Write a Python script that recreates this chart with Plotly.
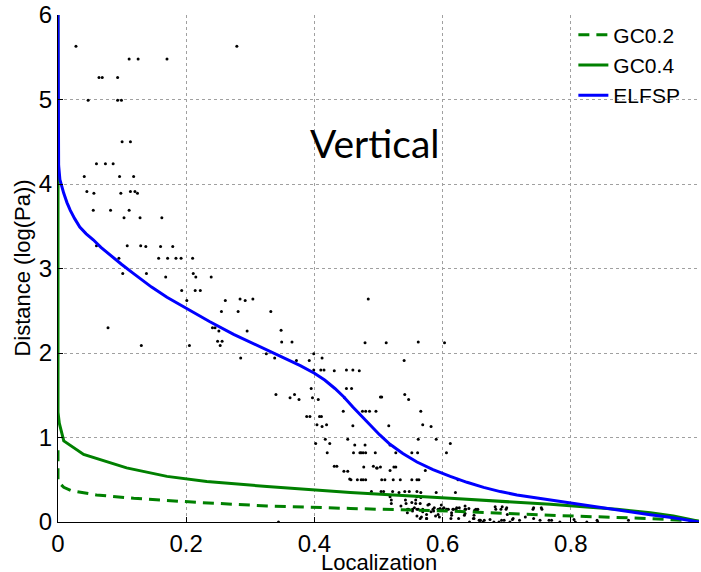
import plotly.graph_objects as go

# ---------------- data ----------------
gc02_x = [0.0, 0.0, 0.009, 0.021, 0.060, 0.118, 0.222, 0.326, 0.456, 0.612, 0.768, 0.924, 1.0]
gc02_y = [0.85, 0.48, 0.41, 0.37, 0.32, 0.28, 0.23, 0.19, 0.16, 0.13, 0.08, 0.04, 0.01]

gc04_x = [0.0, 0.0, 0.002, 0.009, 0.040, 0.107, 0.170, 0.232, 0.326, 0.456, 0.612, 0.768,
          0.872, 0.924, 0.960, 1.0]
gc04_y = [6.0, 1.3, 1.17, 0.96, 0.80, 0.64, 0.54, 0.48, 0.42, 0.35, 0.28, 0.21,
          0.15, 0.11, 0.07, 0.01]

elfsp_x = [0.0, 0.0, 0.001, 0.003, 0.006, 0.009, 0.014, 0.019, 0.026, 0.034, 0.044, 0.055,
           0.067, 0.081, 0.099, 0.118, 0.146, 0.170, 0.200, 0.237, 0.274, 0.305, 0.331,
           0.356, 0.378, 0.400, 0.416, 0.432, 0.446, 0.460, 0.474, 0.487, 0.502, 0.518,
           0.538, 0.560, 0.585, 0.612, 0.638, 0.664, 0.690, 0.716, 0.760, 0.800, 0.840,
           0.880, 0.924, 0.960, 1.0]
elfsp_y = [6.0, 4.5, 4.22, 4.05, 3.96, 3.89, 3.78, 3.69, 3.59, 3.49, 3.41, 3.34,
           3.25, 3.16, 3.05, 2.94, 2.78, 2.66, 2.53, 2.37, 2.22, 2.11, 2.02,
           1.93, 1.85, 1.76, 1.68, 1.58, 1.48, 1.36, 1.25, 1.14, 1.03, 0.92,
           0.81, 0.71, 0.62, 0.54, 0.47, 0.41, 0.36, 0.32, 0.27, 0.22, 0.18,
           0.135, 0.085, 0.05, 0.0]

pts_x = [
    0.028, 0.279, 0.111, 0.125, 0.170, 0.064, 0.069, 0.093, 0.047, 0.093, 0.099,
    0.100, 0.113, 0.060, 0.074, 0.086, 0.041, 0.096, 0.118,
    0.045, 0.056, 0.098, 0.113, 0.120, 0.124, 0.055, 0.082, 0.111, 0.103, 0.128, 0.162,
    0.060, 0.108, 0.129, 0.137, 0.160, 0.179, 0.095, 0.157, 0.171, 0.184, 0.192, 0.210,
    0.101, 0.138, 0.211, 0.168, 0.215, 0.239, 0.193, 0.214, 0.222,
    0.201, 0.261, 0.284, 0.292, 0.304, 0.078, 0.130, 0.255, 0.281, 0.332,
    0.241, 0.245, 0.251, 0.295, 0.348, 0.249, 0.256, 0.253, 0.205, 0.349, 0.365,
    0.285, 0.325, 0.338, 0.372, 0.392, 0.399, 0.412,
    0.399, 0.410, 0.415, 0.431, 0.450, 0.460, 0.470,
    0.340, 0.362, 0.369, 0.376, 0.395, 0.397, 0.406, 0.445, 0.450, 0.447, 0.458,
    0.388, 0.393, 0.408, 0.411, 0.404, 0.412, 0.419, 0.417, 0.452, 0.402, 0.424, 0.420,
    0.431, 0.435, 0.446, 0.452, 0.455, 0.344,
    0.484, 0.479, 0.512, 0.562, 0.603, 0.540, 0.541, 0.547, 0.503, 0.505,
    0.475, 0.480, 0.486, 0.496, 0.566, 0.460, 0.516, 0.569, 0.582,
    0.562, 0.590, 0.612, 0.463, 0.479, 0.518,
    0.461, 0.471, 0.473, 0.476, 0.480, 0.495, 0.527, 0.552, 0.561, 0.606,
    0.477, 0.492, 0.497, 0.503, 0.518, 0.527, 0.573, 0.524, 0.498,
    0.457, 0.467, 0.473, 0.476, 0.480, 0.505, 0.510, 0.523, 0.534, 0.552, 0.560, 0.563, 0.624,
    0.489, 0.504, 0.508, 0.522, 0.532, 0.541, 0.548, 0.560, 0.566, 0.590, 0.620,
    0.518, 0.520, 0.542, 0.558, 0.560, 0.566,
    0.545, 0.553, 0.560, 0.585, 0.593, 0.600, 0.606, 0.609, 0.617, 0.621, 0.635, 0.652,
    0.683, 0.691, 0.699, 0.741, 0.755,
    0.560, 0.565, 0.575, 0.589, 0.595, 0.614, 0.625, 0.634, 0.649, 0.658, 0.665, 0.674,
    0.692, 0.696, 0.709, 0.720, 0.752, 0.766, 0.770, 0.805, 0.841, 0.890,
    0.520, 0.543, 0.552, 0.558, 0.565, 0.579, 0.598,
    0.535, 0.556, 0.547, 0.562, 0.569, 0.577, 0.587, 0.602, 0.607, 0.596, 0.616, 0.622,
    0.626, 0.635, 0.636, 0.641,
    0.545, 0.553, 0.569, 0.575, 0.582, 0.586, 0.593, 0.600, 0.614, 0.627, 0.635, 0.650, 0.654,
    0.567, 0.575, 0.613, 0.648, 0.657, 0.642, 0.663,
    0.655, 0.682, 0.693, 0.700, 0.742, 0.754, 0.729, 0.742, 0.701, 0.710, 0.649, 0.659,
    0.680, 0.688, 0.705, 0.783, 0.807, 0.825, 0.842,
]
pts_y = [
    5.63, 5.63, 5.48, 5.48, 5.48, 5.26, 5.26, 5.26, 4.99, 4.99, 4.99,
    4.50, 4.50, 4.24, 4.24, 4.24, 4.09, 4.09, 4.09,
    3.91, 3.89, 3.89, 3.91, 3.91, 3.89, 3.69, 3.69, 3.69, 3.60, 3.60, 3.60,
    3.27, 3.27, 3.27, 3.26, 3.26, 3.26, 3.12, 3.12, 3.12, 3.12, 3.12, 3.12,
    2.94, 2.94, 2.94, 2.90, 2.90, 2.90, 2.74, 2.74, 2.74,
    2.62, 2.62, 2.64, 2.62, 2.64, 2.30, 2.09, 2.49, 2.49, 2.49,
    2.30, 2.30, 2.26, 2.26, 2.27, 2.14, 2.14, 2.09, 2.09, 2.13, 2.13,
    1.94, 1.99, 1.94, 1.91, 1.91, 1.99, 1.94,
    1.80, 1.80, 1.80, 1.79, 1.80, 1.80, 1.79,
    1.51, 1.47, 1.51, 1.45, 1.58, 1.47, 1.45, 1.31, 1.58, 1.47, 1.58,
    1.25, 1.25, 1.25, 1.25, 1.15, 1.13, 1.15, 0.98, 0.98, 0.93, 0.93, 0.82,
    0.66, 0.66, 0.60, 0.60, 0.51, 0.00,
    2.64, 2.12, 2.12, 2.13, 2.12, 1.91, 1.51, 1.45, 1.48, 1.48,
    1.31, 1.31, 1.31, 1.31, 1.31, 1.14, 1.14, 1.15, 1.13,
    0.98, 0.98, 0.93, 0.91, 0.91, 0.91,
    0.82, 0.82, 0.82, 0.82, 0.82, 0.82, 0.82, 0.82, 0.82, 0.82,
    0.65, 0.66, 0.64, 0.65, 0.61, 0.65, 0.61, 0.65, 0.64,
    0.50, 0.50, 0.50, 0.50, 0.50, 0.50, 0.50, 0.50, 0.50, 0.50, 0.50, 0.50, 0.50,
    0.36, 0.36, 0.36, 0.36, 0.35, 0.36, 0.36, 0.36, 0.35, 0.35, 0.35,
    0.30, 0.26, 0.26, 0.26, 0.30, 0.29,
    0.15, 0.15, 0.15, 0.15, 0.15, 0.15, 0.15, 0.15, 0.15, 0.15, 0.15, 0.15,
    0.15, 0.15, 0.15, 0.15, 0.15,
    0.07, 0.04, 0.04, 0.07, 0.06, 0.08, 0.04, 0.08, 0.04, 0.02, 0.02, 0.03,
    0.02, 0.02, 0.03, 0.02, 0.02, 0.02, 0.02, 0.03, 0.02, 0.02,
    0.22, 0.22, 0.23, 0.22, 0.22, 0.21, 0.20,
    0.19, 0.17, 0.15, 0.15, 0.15, 0.20, 0.17, 0.17, 0.15, 0.16, 0.15, 0.17,
    0.17, 0.19, 0.15, 0.16,
    0.11, 0.13, 0.12, 0.09, 0.12, 0.13, 0.09, 0.14, 0.11, 0.13, 0.10, 0.14, 0.13,
    0.06, 0.04, 0.04, 0.04, 0.02, 0.00, 0.00,
    0.15, 0.18, 0.18, 0.17, 0.17, 0.17, 0.06, 0.04, 0.09, 0.04, 0.08, 0.02,
    0.00, 0.00, 0.00, 0.00, 0.00, 0.00, 0.00,
]

x_ticks = [0, 0.2, 0.4, 0.6, 0.8, 1]
x_tick_labels = ["0", "0.2", "0.4", "0.6", "0.8", "1"]
y_ticks = [0, 1, 2, 3, 4, 5, 6]
y_tick_labels = ["0", "1", "2", "3", "4", "5", "6"]

# ---------------- figure ----------------
fig = go.Figure()
fig.add_trace(go.Scatter(x=pts_x, y=pts_y, mode="markers", showlegend=False,
                         marker=dict(color="black", size=3), hoverinfo="skip"))
fig.add_trace(go.Scatter(x=gc02_x, y=gc02_y, mode="lines", name="GC0.2",
                         line=dict(color="#008000", width=3, dash="11px,7px")))
fig.add_trace(go.Scatter(x=gc04_x, y=gc04_y, mode="lines", name="GC0.4",
                         line=dict(color="#008000", width=3)))
fig.add_trace(go.Scatter(x=elfsp_x, y=elfsp_y, mode="lines", name="ELFSP",
                         line=dict(color="#0000FF", width=3)))

font_main = "Liberation Sans, Arial, sans-serif"
grid = dict(showgrid=True, gridcolor="#a0a0a0", griddash="dot", gridwidth=1,
            zeroline=False, showline=True, linecolor="black", linewidth=1,
            ticks="inside", ticklen=5, tickcolor="black", automargin=False,
            tickfont=dict(family=font_main, size=24, color="black"))

fig.update_layout(
    width=701, height=572,
    margin=dict(l=58, r=2, t=15, b=50),
    paper_bgcolor="white", plot_bgcolor="white",
    xaxis=dict(range=[0, 1], tickvals=x_ticks, ticktext=x_tick_labels, **grid),
    yaxis=dict(range=[0, 6], tickvals=y_ticks, ticktext=y_tick_labels, **grid),
    legend=dict(x=0.804, y=1.001, xanchor="left", yanchor="top", bgcolor="rgba(0,0,0,0)",
                font=dict(family=font_main, size=21, color="black"), tracegroupgap=0,
                itemwidth=30),
    annotations=[
        dict(x=0.494, y=4.49, xref="x", yref="y", text="Vertical", showarrow=False,
             font=dict(family="Lato, Open Sans, sans-serif", size=39, color="black")),
        dict(x=0.5, y=-0.079, xref="paper", yref="paper", text="Localization", showarrow=False,
             xanchor="center", yanchor="middle",
             font=dict(family=font_main, size=22, color="black")),
        dict(x=-0.056, y=0.5, xref="paper", yref="paper", text="Distance (log(Pa))",
             showarrow=False, textangle=-90, xanchor="center", yanchor="middle",
             font=dict(family=font_main, size=22, color="black")),
    ],
)

fig.write_html("out.html", config={"displayModeBar": False},
               post_script="document.body.style.margin='0';document.body.style.padding='0';"
                           "document.body.style.overflow='hidden';")
